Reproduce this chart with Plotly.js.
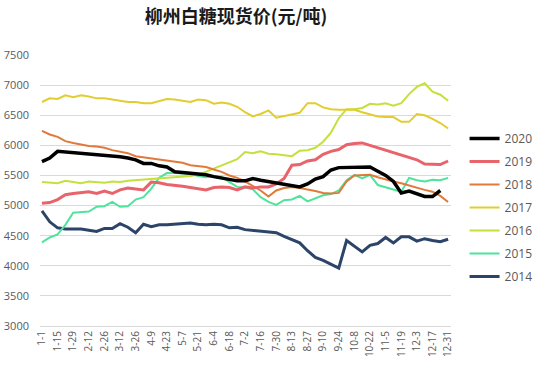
<!DOCTYPE html>
<html>
<head>
<meta charset="utf-8">
<script src="https://cdn.plot.ly/plotly-3.0.1.min.js"></script>
<style>
  html, body { margin: 0; padding: 0; background: #ffffff; }
  #chart { width: 550px; height: 382px; }
</style>
</head>
<body>
<div id="chart"></div>
<script>
// Weekly sample dates (month-day)
const dates = ["1-1","1-8","1-15","1-22","1-29","2-5","2-12","2-19","2-26","3-5","3-12","3-19","3-26",
  "4-2","4-9","4-16","4-23","4-30","5-7","5-14","5-21","5-28","6-4","6-11","6-18","6-25",
  "7-2","7-9","7-16","7-23","7-30","8-6","8-13","8-20","8-27","9-3","9-10","9-17","9-24",
  "10-1","10-8","10-15","10-22","10-29","11-5","11-12","11-19","11-26","12-3","12-10","12-17","12-24","12-31"];

const tickLabels = ["1-1","1-15","1-29","2-12","2-26","3-12","3-26","4-9","4-23","5-7","5-21","6-4","6-18",
  "7-2","7-16","7-30","8-13","8-27","9-10","9-24","10-8","10-22","11-5","11-19","12-3","12-17","12-31"];

const yTicks = [3000,3500,4000,4500,5000,5500,6000,6500,7000,7500];

const p2020 = [5730,5790,5900,5890,5880,5870,5860,5850,5840,5830,5810,5790,5760,5700,5700,5660,5640,5560,5550,5540,
  5520,5510,5480,5460,5440,5410,5410,5450,5420,5400,5380,5350,5330,5310,5360,5440,5480,5590,5630,5630,
  5630,5640,5640,5570,5500,5400,5210,5240,5190,5150,5150,5250,null];
const p2019 = [5040,5050,5100,5180,5200,5210,5230,5200,5240,5200,5260,5290,5270,5260,5390,5380,5350,5340,5320,5300,
  5280,5260,5300,5310,5300,5260,5310,5290,5310,5310,5360,5450,5670,5680,5740,5760,5850,5900,5930,6010,
  6030,6040,6000,5960,5930,5890,5850,5810,5760,5690,5680,5680,5740];
const p2018 = [6240,6180,6140,6070,6040,6010,5990,5980,5960,5920,5890,5870,5820,5800,5780,5760,5740,5720,5710,5670,
  5650,5640,5600,5560,5500,5460,5400,5320,5250,5150,5250,5290,5310,5290,5270,5240,5210,5200,5210,5400,
  5500,5510,5510,5470,5430,5400,5370,5330,5300,5260,5230,5160,5060];
const p2017 = [6720,6780,6770,6830,6800,6830,6810,6780,6780,6760,6740,6720,6720,6700,6700,6740,6770,6760,6740,6720,
  6760,6750,6690,6710,6690,6640,6550,6480,6520,6580,6460,6490,6520,6540,6700,6700,6630,6600,6590,6590,
  6590,6550,6520,6480,6470,6470,6390,6390,6520,6500,6440,6370,6280];
const p2016 = [5390,5380,5370,5410,5390,5370,5400,5390,5380,5400,5390,5410,5420,5420,5430,5440,5450,5460,5470,5490,
  5510,5560,5610,5660,5720,5770,5890,5870,5900,5860,5850,5830,5820,5910,5920,5960,6060,6210,6450,6600,
  6600,6620,6690,6680,6700,6660,6700,6850,6970,7030,6890,6840,6740];
const p2015 = [4390,4470,4520,4680,4880,4890,4900,4980,4990,5060,4980,4990,5100,5140,5280,5460,5540,5540,5530,5530,
  5490,5470,5490,5480,5390,5310,5300,5270,5140,5060,5010,5090,5100,5160,5070,5120,5170,5190,5250,5420,
  5510,5450,5510,5340,5300,5260,5230,5460,5420,5400,5430,5420,5460];
const p2014 = [4910,4730,4630,4610,4610,4610,4590,4570,4620,4620,4700,4640,4550,4690,4650,4680,4680,4690,4700,4710,
  4690,4680,4690,4680,4630,4640,4600,4590,4580,4570,4550,4490,4440,4380,4250,4140,4090,4020,3960,4420,
  4320,4230,4340,4370,4470,4380,4480,4480,4410,4450,4420,4400,4440];

const series = [
  {name: "2014", y: p2014, color: "#2B4468", width: 3},
  {name: "2015", y: p2015, color: "#4FE39C", width: 2},
  {name: "2016", y: p2016, color: "#C4E03C", width: 2},
  {name: "2017", y: p2017, color: "#E2CD30", width: 2},
  {name: "2018", y: p2018, color: "#E07A3A", width: 2},
  {name: "2019", y: p2019, color: "#E8636A", width: 3},
  {name: "2020", y: p2020, color: "#000000", width: 3.5}
];

const traces = series.map((s, i) => ({
  type: "scatter",
  mode: "lines",
  x: dates,
  y: s.y,
  name: s.name,
  legendgroup: s.name,
  legendrank: series.length - i,
  line: {color: s.color, width: s.width},
  connectgaps: false,
  hoverinfo: "skip"
}));

const layout = {
  width: 550,
  height: 382,
  margin: {l: 40, r: 80, t: 55, b: 56},
  paper_bgcolor: "#ffffff",
  plot_bgcolor: "#ffffff",
  showlegend: true,
  title: {
    text: "<b>柳州白糖现货价(元/吨)</b>",
    font: {family: "Noto Sans CJK SC, sans-serif", size: 18, color: "#1a1a1a"},
    x: 0.477, xanchor: "center", xref: "paper",
    y: 0.955, yanchor: "middle", yref: "container"
  },
  xaxis: {
    type: "category",
    categoryorder: "array",
    categoryarray: dates,
    range: [-0.25, 52.37],
    tickmode: "array",
    tickvals: tickLabels,
    ticktext: tickLabels,
    tickangle: -90,
    showgrid: false,
    zeroline: false,
    showline: true,
    linecolor: "#D9D9D9",
    linewidth: 1,
    ticks: "",
    tickfont: {family: "Open Sans, sans-serif", size: 10, color: "#595959"}
  },
  yaxis: {
    range: [3000, 7500],
    tickmode: "array",
    tickvals: yTicks,
    ticktext: yTicks.map(String),
    showgrid: true,
    gridcolor: "#D9D9D9",
    gridwidth: 1,
    zeroline: false,
    showline: false,
    ticks: "",
    ticklabelstandoff: 10,
    tickfont: {family: "Open Sans, sans-serif", size: 11, color: "#595959"}
  },
  legend: {
    x: 1.033, xanchor: "left",
    y: 0.745, yanchor: "top",
    font: {family: "Open Sans, sans-serif", size: 12, color: "#595959"},
    tracegroupgap: 4,
    itemwidth: 30,
    bgcolor: "rgba(0,0,0,0)"
  }
};

Plotly.newPlot("chart", traces, layout, {displayModeBar: false, staticPlot: true});
</script>
</body>
</html>
